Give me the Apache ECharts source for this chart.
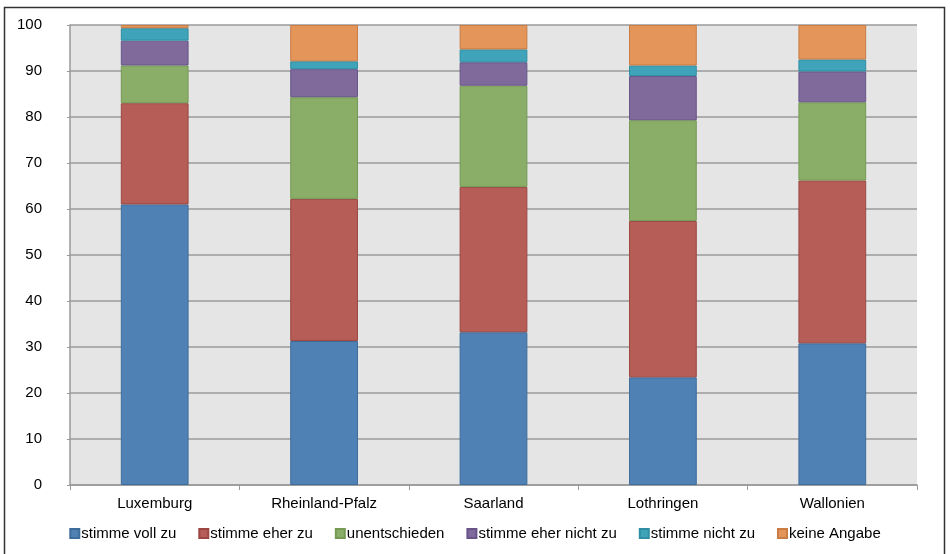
<!DOCTYPE html>
<html><head><meta charset="utf-8">
<script src="https://cdn.jsdelivr.net/npm/echarts@6/dist/echarts.min.js"></script>
<style>html,body{margin:0;padding:0;background:#fff}#c{width:950px;height:554px}</style>
</head><body><div id="c"></div>
<script>
const categories = ['Luxemburg','Rheinland-Pfalz','Saarland','Lothringen','Wallonien'];
const seriesNames = ['stimme voll zu','stimme eher zu','unentschieden','stimme eher nicht zu','stimme nicht zu','keine Angabe'];
const stimmeVollZu = [61.0, 31.3, 33.2, 23.4, 30.8];
const stimmeEherZu = [22.0, 30.9, 31.6, 34.0, 35.4];
const unentschieden = [8.2, 22.1, 22.0, 21.9, 17.0];
const stimmeEherNichtZu = [5.4, 6.1, 5.1, 9.6, 6.7];
const stimmeNichtZu = [2.7, 1.7, 2.8, 2.3, 2.6];
const keineAngabe = [0.7, 7.9, 5.3, 8.8, 7.5];
const yTicks = [0,10,20,30,40,50,60,70,80,90,100];

const values = [stimmeVollZu, stimmeEherZu, unentschieden, stimmeEherNichtZu, stimmeNichtZu, keineAngabe];
const colors = ['#4f81b4','#b65d57','#8aae67','#7f6a9b','#3fa4b9','#e4955a'];
const borders = ['#3e6d9c','#9c4742','#759a54','#67558a','#2f8ea3','#c97c44'];

const chart = echarts.init(document.getElementById('c'));
chart.setOption({
  animation:false,
  textStyle:{fontFamily:'Liberation Sans, Arial, sans-serif'},
  graphic:[{type:'rect',shape:{x:4.5,y:7.5,width:940,height:560},style:{fill:'none',stroke:'#333',lineWidth:1.5},z:-1}],
  grid:{left:70,right:33,top:25,bottom:69,show:true,backgroundColor:'#e4e5e4',borderWidth:0},
  legend:{bottom:8,left:'center',itemWidth:9,itemHeight:9,itemGap:22,icon:'rect',
    textStyle:{fontSize:15,color:'#000',padding:[0,0,0,-3]},data:seriesNames},
  xAxis:{type:'category',data:categories,
    axisLine:{lineStyle:{color:'#999',width:1.5}},
    axisTick:{show:true,alignWithLabel:false,length:5,lineStyle:{color:'#999'}},
    axisLabel:{fontSize:15,color:'#000',margin:11}},
  yAxis:{type:'value',min:0,max:100,interval:10,
    axisLine:{show:true,lineStyle:{color:'#999',width:1.5}},
    axisTick:{show:true,length:3,lineStyle:{color:'#999'}},
    axisLabel:{fontSize:15,color:'#000',margin:28,formatter:v=>yTicks.includes(v)?String(v):''},
    splitLine:{lineStyle:{color:'#9a9a9a',width:1.5}}},
  series: seriesNames.map((n,i)=>({
    name:n,type:'bar',stack:'total',data:values[i],barWidth:'40%',
    itemStyle:{color:colors[i],borderColor:borders[i],borderWidth:1}
  }))
});
</script></body></html>
